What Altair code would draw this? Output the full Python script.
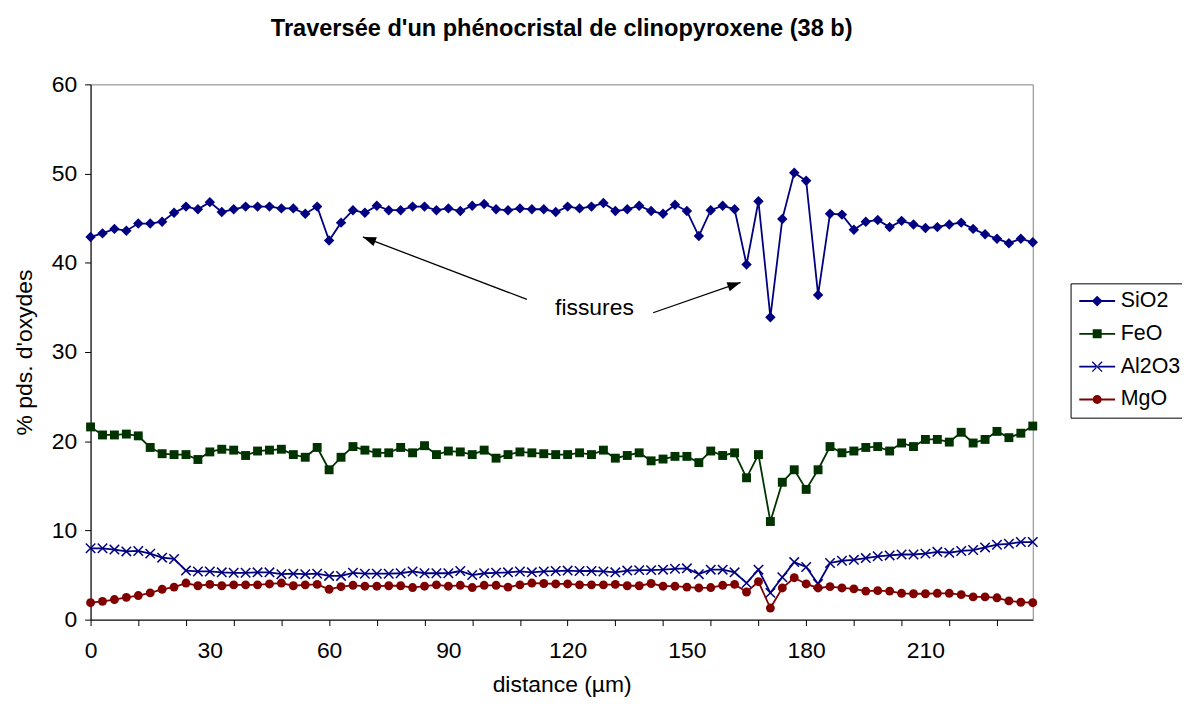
import math
import altair as alt
import pandas as pd

# ---------------- data ----------------
distance = [0, 3, 6, 9, 12, 15, 18, 21, 24, 27, 30, 33, 36, 39, 42, 45, 48, 51, 54, 57,
            60, 63, 66, 69, 72, 75, 78, 81, 84, 87, 90, 93, 96, 99, 102, 105, 108, 111, 114, 117,
            120, 123, 126, 129, 132, 135, 138, 141, 144, 147, 150, 153, 156, 159, 162, 165, 168, 171, 174, 177,
            180, 183, 186, 189, 192, 195, 198, 201, 204, 207, 210, 213, 216, 219, 222, 225, 228, 231, 234, 237]

sio2 = [42.9, 43.3, 43.8, 43.6, 44.4, 44.4, 44.6, 45.6, 46.3, 46.0, 46.8, 45.7, 46.0, 46.3, 46.3, 46.3, 46.1, 46.1, 45.5, 46.3,
        42.5, 44.5, 45.9, 45.6, 46.4, 45.9, 45.9, 46.3, 46.3, 45.9, 46.1, 45.8, 46.4, 46.6, 46.0, 45.9, 46.1, 46.0, 46.0, 45.7,
        46.3, 46.1, 46.3, 46.7, 45.8, 46.0, 46.4, 45.8, 45.5, 46.5, 45.8, 43.0, 45.9, 46.4, 46.0, 39.8, 46.9, 33.9, 44.9, 50.1,
        49.2, 36.4, 45.5, 45.4, 43.7, 44.6, 44.8, 44.0, 44.7, 44.3, 43.9, 44.0, 44.3, 44.5, 43.8, 43.2, 42.7, 42.2, 42.7, 42.3]

feo = [21.6, 20.7, 20.7, 20.8, 20.6, 19.3, 18.6, 18.5, 18.5, 17.95, 18.8, 19.1, 19.0, 18.4, 18.9, 19.0, 19.1, 18.5, 18.2, 19.3,
       16.8, 18.2, 19.4, 19.0, 18.7, 18.7, 19.3, 18.7, 19.5, 18.5, 18.9, 18.8, 18.5, 19.0, 18.1, 18.5, 18.8, 18.7, 18.6, 18.5,
       18.5, 18.7, 18.5, 19.0, 18.1, 18.4, 18.7, 17.8, 18.0, 18.3, 18.3, 17.6, 18.9, 18.4, 18.7, 15.9, 18.5, 11.0, 15.4, 16.8,
       14.6, 16.8, 19.4, 18.7, 18.9, 19.3, 19.4, 18.9, 19.8, 19.4, 20.2, 20.2, 19.9, 21.0, 19.8, 20.2, 21.1, 20.4, 20.9, 21.7]

al2o3 = [8.0, 8.0, 7.85, 7.65, 7.7, 7.4, 6.95, 6.8, 5.5, 5.4, 5.4, 5.3, 5.25, 5.25, 5.3, 5.3, 5.1, 5.15, 5.1, 5.15,
         4.9, 4.9, 5.25, 5.15, 5.15, 5.15, 5.2, 5.4, 5.2, 5.2, 5.2, 5.45, 5.0, 5.2, 5.25, 5.3, 5.4, 5.3, 5.4, 5.45,
         5.5, 5.45, 5.45, 5.4, 5.3, 5.5, 5.55, 5.55, 5.6, 5.7, 5.75, 5.1, 5.6, 5.6, 5.3, 4.1, 5.6, 3.0, 4.75, 6.45,
         5.9, 4.0, 6.35, 6.6, 6.7, 6.9, 7.1, 7.2, 7.3, 7.3, 7.4, 7.6, 7.5, 7.7, 7.8, 8.1, 8.4, 8.5, 8.7, 8.7]

mgo = [1.9, 2.05, 2.25, 2.5, 2.7, 3.0, 3.4, 3.65, 4.1, 3.8, 3.95, 3.8, 3.9, 3.9, 3.9, 4.0, 4.1, 3.8, 3.9, 3.95,
       3.4, 3.7, 3.85, 3.75, 3.75, 3.8, 3.8, 3.6, 3.75, 3.9, 3.75, 3.85, 3.6, 3.85, 3.85, 3.65, 3.9, 4.1, 4.05, 4.0,
       4.0, 3.9, 3.9, 3.9, 3.95, 3.8, 3.8, 4.05, 3.75, 3.75, 3.65, 3.55, 3.6, 3.85, 3.95, 3.1, 4.25, 1.3, 3.55, 4.7,
       4.0, 3.55, 3.7, 3.55, 3.45, 3.2, 3.25, 3.2, 2.95, 2.9, 2.9, 2.95, 2.95, 2.8, 2.55, 2.55, 2.45, 2.1, 1.95, 1.9]

series_names = ["SiO2", "FeO", "Al2O3", "MgO"]
series_values = [sio2, feo, al2o3, mgo]
series_colors = ["#000080", "#003300", "#000080", "#800000"]

x_tick_values = [0, 12, 24, 30, 36, 48, 60, 72, 84, 90, 96, 108, 120, 132, 144, 150, 156, 168, 180,
                 192, 204, 210, 216, 228]
y_tick_values = [0, 10, 20, 30, 40, 50, 60]

title_text = "Traversée d'un phénocristal de clinopyroxene (38 b)"
x_title = "distance (µm)"
y_title = "% pds. d'oxydes"

# annotation: "fissures" with two arrows (data units)
note_text = ["fissures"]
note_x = [126.75]
note_y = [34.9]
arrow_tail_x = [109.75, 141.5]
arrow_tail_y = [35.9, 34.4]
arrow_tip_x = [68.5, 163.5]
arrow_tip_y = [42.9, 37.8]

# ---------------- layout ----------------
W, H = 947, 538
X_MAX, Y_MAX = 237, 60
FONT = "Liberation Sans"
FS = 23

rows = []
for name, vals in zip(series_names, series_values):
    for d, v in zip(distance, vals):
        rows.append({"distance": d, "value": v, "series": name})
df = pd.DataFrame(rows)

xscale = alt.Scale(domain=[0, X_MAX], nice=False, zero=False)
yscale = alt.Scale(domain=[0, Y_MAX], nice=False)

x_axis = alt.Axis(
    title=x_title,
    values=x_tick_values,
    labelExpr="datum.value % 30 === 0 ? datum.label : ''",
    tickOpacity={"condition": {"test": "datum.value % 12 === 0", "value": 1}, "value": 0},
    labelOverlap=False,
    labelFlush=False,
    grid=False,
    tickSize=6,
    labelPadding=14,
    titlePadding=11,
)
y_axis = alt.Axis(
    title=y_title,
    values=y_tick_values,
    grid=False,
    tickSize=6,
    labelPadding=8,
    titlePadding=15,
    labelFlush=False,
)


def X(field):
    return alt.X(field, scale=xscale, axis=x_axis)


def Y(field):
    return alt.Y(field, scale=yscale, axis=y_axis)


markers = {
    "SiO2": dict(shape="diamond", size=110, filled=True),
    "FeO": dict(shape="square", size=80, filled=True),
    "Al2O3": dict(shape="M-1,-1L1,1M-1,1L1,-1", size=90, filled=False, strokeWidth=1.5),
    "MgO": dict(shape="circle", size=80, filled=True),
}

layers = []
for name, color in zip(series_names, series_colors):
    base = alt.Chart(df).transform_filter(alt.datum.series == name)
    line = base.mark_line(color=color, strokeWidth=1.8).encode(x=X("distance:Q"), y=Y("value:Q"))
    pts = base.mark_point(color=color, opacity=1, **markers[name]).encode(x=X("distance:Q"), y=Y("value:Q"))
    layers += [line, pts]

# legend layer (no data drawn, only the legend)
legend_shapes = [
    "M-2,-0.1H2V0.1H-2Z M0,-0.6L0.6,0L0,0.6L-0.6,0Z",
    "M-2,-0.1H2V0.1H-2Z M-0.5,-0.5H0.5V0.5H-0.5Z",
    "M-2,-0.1H2V0.1H-2Z M-0.6,-0.5L-0.5,-0.6L0.6,0.5L0.5,0.6Z M-0.6,0.5L-0.5,0.6L0.6,-0.5L0.5,-0.6Z",
    "M-2,-0.1H2V0.1H-2Z M-0.5,0A0.5,0.5 0 1,1 0.5,0A0.5,0.5 0 1,1 -0.5,0Z",
]
leg = alt.Legend(
    title=None, orient="none", legendX=985, legendY=200,
    strokeColor="black", fillColor="white", padding=7,
    symbolSize=324, symbolOffset=9, labelOffset=13,
    labelFontSize=21.5, labelFont=FONT, labelColor="black",
    rowPadding=10, symbolStrokeWidth=0,
)
legend_layer = alt.Chart(df).transform_filter("false").mark_point(filled=True, opacity=1).encode(
    color=alt.Color("series:N", scale=alt.Scale(domain=series_names, range=series_colors), legend=leg),
    shape=alt.Shape("series:N", scale=alt.Scale(domain=series_names, range=legend_shapes), legend=leg),
)

# annotation layers
sx = W / X_MAX
sy = H / Y_MAX
angles = []
for tx, ty, hx, hy in zip(arrow_tail_x, arrow_tail_y, arrow_tip_x, arrow_tip_y):
    dx = (hx - tx) * sx
    dy = -(hy - ty) * sy
    angles.append(math.degrees(math.atan2(dx, -dy)) % 360)
arrows_df = pd.DataFrame({"x": arrow_tail_x, "y": arrow_tail_y, "x2": arrow_tip_x, "y2": arrow_tip_y,
                          "angle": angles})
arrow_lines = alt.Chart(arrows_df).mark_rule(color="black", strokeWidth=1.3).encode(
    x=X("x:Q"), y=Y("y:Q"), x2="x2:Q", y2="y2:Q",
)
arrow_heads = alt.Chart(arrows_df).mark_point(
    shape="M0,0L0.36,1L-0.36,1Z", filled=True, color="black", opacity=1, size=700
).encode(
    x=X("x2:Q"), y=Y("y2:Q"),
    angle=alt.Angle("angle:Q", scale=None),
)
note_df = pd.DataFrame({"x": note_x, "y": note_y, "t": note_text})
note = alt.Chart(note_df).mark_text(fontSize=FS, font=FONT, color="black").encode(
    x=X("x:Q"), y=Y("y:Q"), text="t:N"
)

chart = alt.layer(*layers, arrow_lines, arrow_heads, note, legend_layer).properties(
    width=W, height=H,
    background="white",
    title=alt.TitleParams(title_text, fontSize=23.7, fontWeight="bold", font=FONT, color="black",
                          anchor="middle", offset=33),
    padding={"left": 83, "top": 75, "right": 150, "bottom": 78},
    autosize=alt.AutoSizeParams(type="none"),
).configure_view(
    stroke="#808080", strokeWidth=1
).configure_axis(
    domainColor="black", tickColor="black", labelColor="black", titleColor="black",
    labelFont=FONT, titleFont=FONT, labelFontSize=FS, titleFontSize=FS, titleFontWeight="normal",
    domainWidth=1, tickWidth=1,
)

chart.save("out.html", embed_options={"renderer": "svg", "actions": False})
